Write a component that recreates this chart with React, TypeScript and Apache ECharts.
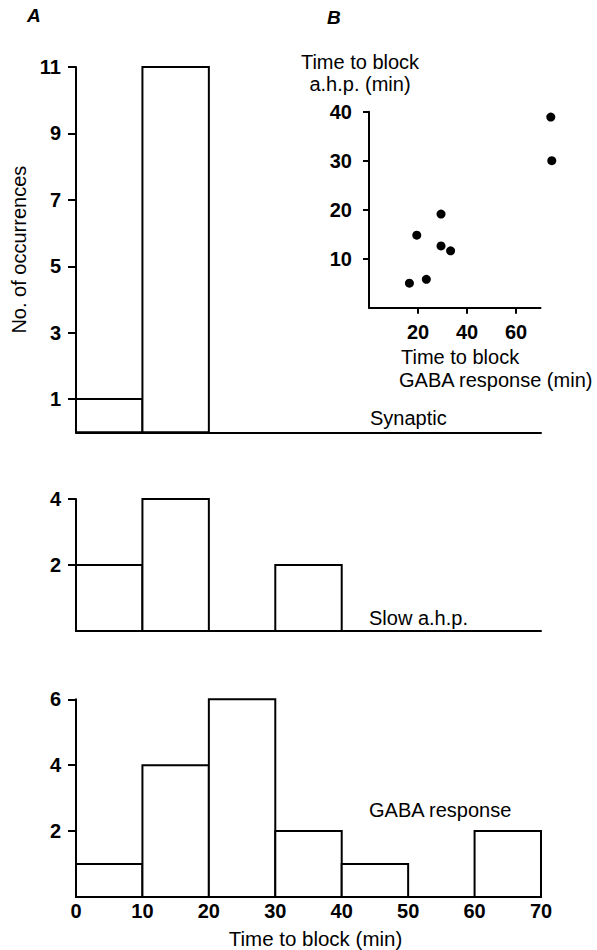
import React, { useEffect, useRef } from "react";
import * as echarts from "echarts";

// Histogram bins (min)
const binStarts = [0, 10, 20, 30, 40, 50, 60];
const binEnds = [10, 20, 30, 40, 50, 60, 70];
const synapticCounts = [1, 11, 0, 0, 0, 0, 0];
const slowAhpCounts = [2, 4, 0, 2, 0, 0, 0];
const gabaCounts = [1, 4, 6, 2, 1, 0, 2];

const synapticTicks = [1, 3, 5, 7, 9, 11];
const slowAhpTicks = [2, 4];
const gabaTicks = [2, 4, 6];
const timeTicks = [0, 10, 20, 30, 40, 50, 60, 70];

// Inset B: time to block GABA response vs time to block a.h.p.
const gabaBlockTimes = [74.2, 74.6, 29.4, 19.5, 29.4, 33.3, 23.4, 16.5];
const ahpBlockTimes = [38.9, 30.0, 19.1, 14.8, 12.6, 11.6, 5.8, 5.0];
const insetXTicks = [20, 40, 60];
const insetYTicks = [10, 20, 30, 40];

const FONT = '"Liberation Sans", Arial, Helvetica, sans-serif';

function histData(counts: number[]) {
  return binStarts.map((s, i) => [s, binEnds[i], counts[i]]);
}

const renderBin = (_params: any, api: any) => {
  const x0 = api.value(0);
  const x1 = api.value(1);
  const c = api.value(2);
  if (!c) return null;
  const p0 = api.coord([x0, 0]);
  const p1 = api.coord([x1, c]);
  return {
    type: "rect",
    shape: { x: p0[0], y: p1[1], width: p1[0] - p0[0], height: p0[1] - p1[1] },
    style: { fill: "#fff", stroke: "#000", lineWidth: 2 },
  };
};

const axisLine = { show: true, lineStyle: { color: "#000", width: 2 } };

function valueY(max: number, ticks: number[], extra: any = {}) {
  return {
    type: "value",
    min: 0,
    max,
    axisLine,
    splitLine: { show: false },
    axisTick: { show: true, length: 8, customValues: ticks, lineStyle: { color: "#000", width: 2 } },
    axisLabel: {
      customValues: ticks,
      margin: 15,
      color: "#000",
      fontSize: 20,
      fontWeight: "bold",
      fontFamily: FONT,
    },
    ...extra,
  };
}

function plainX(gridIndex: number) {
  return {
    type: "value",
    gridIndex,
    min: 0,
    max: 70,
    axisLine,
    axisTick: { show: false },
    axisLabel: { show: false },
    splitLine: { show: false },
  };
}

function txt(text: string, x: number, y: number, extra: any = {}) {
  return {
    type: "text",
    x,
    y,
    style: {
      text,
      fill: "#000",
      fontSize: 20,
      fontFamily: FONT,
      align: "left",
      textAlign: "left",
      verticalAlign: "middle",
      textVerticalAlign: "middle",
      ...extra,
    },
  };
}

export default function App() {
  const ref = useRef<HTMLDivElement>(null);
  useEffect(() => {
    document.body.style.margin = "0";
    if (!ref.current) return;
    const chart = echarts.init(ref.current, undefined, { renderer: "svg" });
    chart.setOption({
      animation: false,
      backgroundColor: "#fff",
      grid: [
        { left: 76, top: 67, width: 465, height: 365.3 },
        { left: 76, top: 499, width: 465, height: 132 },
        { left: 76, top: 699.3, width: 465, height: 198 },
        { left: 369, top: 111.7, width: 171.5, height: 196 },
      ],
      xAxis: [
        plainX(0),
        plainX(1),
        {
          type: "value",
          gridIndex: 2,
          min: 0,
          max: 70,
          interval: 10,
          axisLine,
          axisTick: { show: false },
          splitLine: { show: false },
          axisLabel: {
            customValues: timeTicks,
            margin: 4,
            color: "#000",
            fontSize: 20,
            fontWeight: "bold",
            fontFamily: FONT,
          },
          name: "Time to block (min)",
          nameLocation: "middle",
          nameGap: 31,
          nameTextStyle: { color: "#000", fontSize: 20.5, fontFamily: FONT, padding: [0, 0, 0, 14] },
        },
        {
          type: "value",
          gridIndex: 3,
          min: 0,
          max: 70,
          axisLine,
          splitLine: { show: false },
          axisTick: { show: true, length: 6, customValues: insetXTicks, lineStyle: { color: "#000", width: 2 } },
          axisLabel: {
            customValues: insetXTicks,
            margin: 14,
            color: "#000",
            fontSize: 20,
            fontWeight: "bold",
            fontFamily: FONT,
          },
        },
      ],
      yAxis: [
        valueY(11, synapticTicks, {
          gridIndex: 0,
          name: "No. of occurrences",
          nameLocation: "middle",
          nameGap: 44,
          nameTextStyle: { color: "#000", fontSize: 20, fontFamily: FONT },
        }),
        valueY(4, slowAhpTicks, { gridIndex: 1 }),
        valueY(6, gabaTicks, { gridIndex: 2 }),
        {
          ...valueY(40, insetYTicks, { gridIndex: 3 }),
          axisTick: { show: true, length: 6, customValues: insetYTicks, lineStyle: { color: "#000", width: 2 } },
          axisLabel: {
            customValues: insetYTicks,
            margin: 17,
            color: "#000",
            fontSize: 20,
            fontWeight: "bold",
            fontFamily: FONT,
          },
          name: "Time to block\na.h.p. (min)",
          nameLocation: "end",
          nameGap: 17,
          nameTextStyle: {
            color: "#000",
            fontSize: 20,
            lineHeight: 22,
            fontFamily: FONT,
            align: "center",
            padding: [0, 18, 0, 0],
          },
        },
      ],
      series: [
        { type: "custom", name: "Synaptic", xAxisIndex: 0, yAxisIndex: 0, data: histData(synapticCounts), encode: { x: [0, 1], y: 2 }, renderItem: renderBin },
        { type: "custom", name: "Slow a.h.p.", xAxisIndex: 1, yAxisIndex: 1, data: histData(slowAhpCounts), encode: { x: [0, 1], y: 2 }, renderItem: renderBin },
        { type: "custom", name: "GABA response", xAxisIndex: 2, yAxisIndex: 2, data: histData(gabaCounts), encode: { x: [0, 1], y: 2 }, renderItem: renderBin },
        {
          type: "scatter",
          xAxisIndex: 3,
          yAxisIndex: 3,
          clip: false,
          symbol: "circle",
          symbolSize: 9,
          itemStyle: { color: "#000", opacity: 1 },
          data: gabaBlockTimes.map((g, i) => [g, ahpBlockTimes[i]]),
        },
      ],
      graphic: [
        txt("A", 27, 15, { fontStyle: "italic", fontWeight: "bold", fontSize: 19 }),
        txt("B", 327, 17, { fontStyle: "italic", fontWeight: "bold", fontSize: 19 }),
        txt("Synaptic", 370, 418),
        txt("Slow a.h.p.", 369, 618),
        txt("GABA response", 369, 810),
        txt("Time to block", 401, 357),
        txt("GABA response (min)", 399, 380),
      ],
    });
    return () => chart.dispose();
  }, []);
  return <div ref={ref} style={{ width: 597, height: 950 }} />;
}
